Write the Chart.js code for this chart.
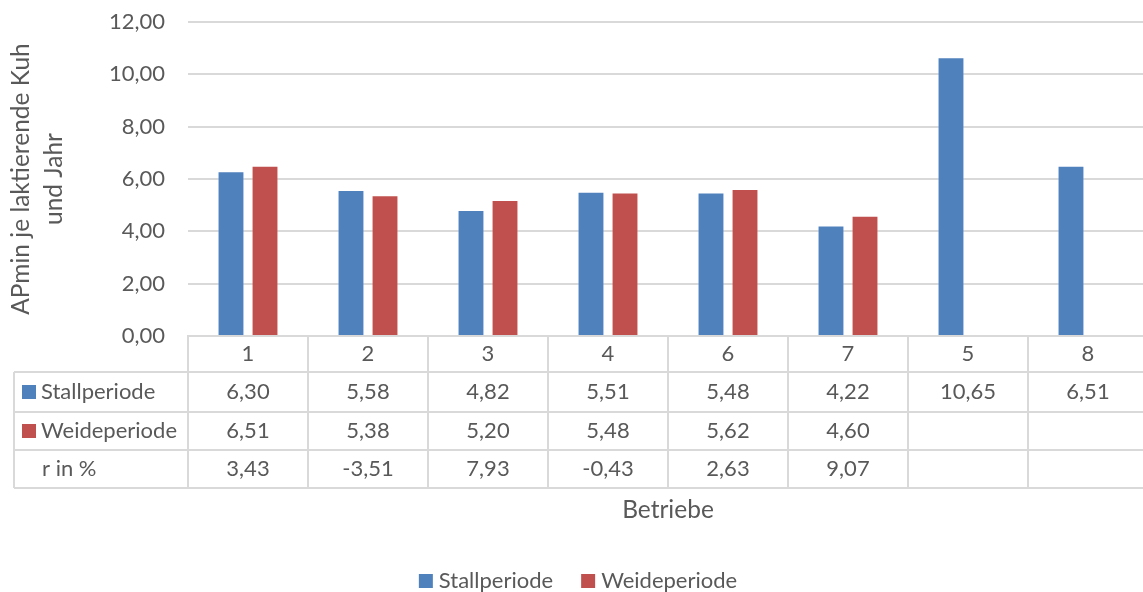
<!DOCTYPE html>
<html>
<head>
<meta charset="utf-8">
<script src="https://cdn.jsdelivr.net/npm/chart.js@4"></script>
<style>
  html, body { margin: 0; padding: 0; background: #fff; overflow: hidden; }
  #wrap { width: 1150px; height: 592px; }
</style>
</head>
<body>
<div id="wrap"><canvas id="c" width="1150" height="592"></canvas></div>
<script>
const BETRIEBE = ['1', '2', '3', '4', '6', '7', '5', '8'];
const STALL = [6.30, 5.58, 4.82, 5.51, 5.48, 4.22, 10.65, 6.51];
const WEIDE = [6.51, 5.38, 5.20, 5.48, 5.62, 4.60, null, null];
const R_PCT = [3.43, -3.51, 7.93, -0.43, 2.63, 9.07, null, null];
const Y_TITLE = ['APmin je laktierende Kuh', 'und Jahr'];
const X_TITLE = 'Betriebe';

const BLUE = '#4F81BD', RED = '#C0504D';
const GRID = '#d9d9d9', TXT = '#595959';
const FONT = 'Lato';

const fmt = v => v == null ? '' : v.toFixed(2).replace('.', ',');

Chart.defaults.font.family = FONT;
Chart.defaults.color = TXT;

// table under the plot + axis title + legend
const tablePlugin = {
  id: 'tablePlugin',
  afterDraw(chart) {
    const { ctx, chartArea: a, scales: { x } } = chart;
    const cw = x.getPixelForValue(1) - x.getPixelForValue(0);
    const rows = [a.bottom, a.bottom + 36, a.bottom + 76, a.bottom + 114, a.bottom + 152];
    const left = 14;
    ctx.save();
    ctx.strokeStyle = GRID; ctx.lineWidth = 2;
    ctx.beginPath();
    for (let i = 1; i < rows.length; i++) { ctx.moveTo(left, rows[i]); ctx.lineTo(a.right, rows[i]); }
    ctx.moveTo(left, rows[1]); ctx.lineTo(left, rows[4]);
    for (let i = 0; i <= BETRIEBE.length; i++) {
      const bx = x.getPixelForValue(0) - cw / 2 + i * cw;
      ctx.moveTo(bx, rows[0] - 1); ctx.lineTo(bx, rows[4]);
    }
    ctx.stroke();

    ctx.fillStyle = TXT;
    ctx.font = '22px ' + FONT;
    ctx.textBaseline = 'middle';
    ctx.textAlign = 'center';
    const mid = i => (rows[i] + rows[i + 1]) / 2;
    BETRIEBE.forEach((b, i) => {
      const cx = x.getPixelForValue(i);
      ctx.fillText(b, cx, mid(0));
      ctx.fillText(fmt(STALL[i]), cx, mid(1));
      ctx.fillText(fmt(WEIDE[i]), cx, mid(2));
      ctx.fillText(fmt(R_PCT[i]), cx, mid(3));
    });
    ctx.textAlign = 'left';
    const series = chart.data.datasets;
    ctx.fillStyle = series[0].backgroundColor; ctx.fillRect(22, mid(1) - 7, 14, 14);
    ctx.fillStyle = series[1].backgroundColor; ctx.fillRect(22, mid(2) - 7, 14, 14);
    ctx.fillStyle = TXT;
    ctx.fillText(series[0].label, 41, mid(1));
    ctx.fillText(series[1].label, 41, mid(2));
    ctx.fillText('r in %', 42, mid(3));

    // x axis title
    ctx.textAlign = 'center';
    ctx.font = '24.5px ' + FONT;
    ctx.fillText(X_TITLE, (a.left + a.right) / 2, 510);

    // legend
    ctx.font = '22px ' + FONT;
    ctx.textAlign = 'left';
    const widths = series.map(s => ctx.measureText(s.label).width);
    const total = series.length * 20 + widths.reduce((p, c) => p + c, 0) + 28 * (series.length - 1);
    let lx = 578 - total / 2;
    series.forEach((s, i) => {
      ctx.fillStyle = s.backgroundColor; ctx.fillRect(lx, 574, 14, 14);
      ctx.fillStyle = TXT; ctx.fillText(s.label, lx + 20, 581);
      lx += 20 + widths[i] + 28;
    });
    ctx.restore();
  }
};

new Chart(document.getElementById('c'), {
  type: 'bar',
  data: {
    labels: BETRIEBE,
    datasets: [
      { label: 'Stallperiode', data: STALL, backgroundColor: BLUE, borderColor: 'rgba(255,255,255,0.35)', borderWidth: 1 },
      { label: 'Weideperiode', data: WEIDE, backgroundColor: RED, borderColor: 'rgba(255,255,255,0.35)', borderWidth: 1 }
    ]
  },
  options: {
    responsive: false, animation: false, devicePixelRatio: 1,
    categoryPercentage: 0.567, barPercentage: 0.79,
    layout: { padding: { top: 22, right: 2, bottom: 256, left: 0 } },
    plugins: { legend: { display: false }, tooltip: { enabled: false } },
    scales: {
      x: { display: false },
      y: {
        min: 0, max: 12,
        afterFit: s => { s.width = 188; s.paddingTop = 0; s.paddingBottom = 0; },
        grid: { color: GRID, lineWidth: 2, drawTicks: false },
        border: { display: false },
        ticks: { stepSize: 2, padding: 23, color: TXT, font: { size: 22 }, callback: v => fmt(v) },
        title: {
          display: true, text: Y_TITLE, color: TXT,
          font: { size: 24.5, lineHeight: '33px' },
          padding: { top: 4.5, bottom: 0 }
        }
      }
    }
  },
  plugins: [tablePlugin]
});
</script>
</body>
</html>
